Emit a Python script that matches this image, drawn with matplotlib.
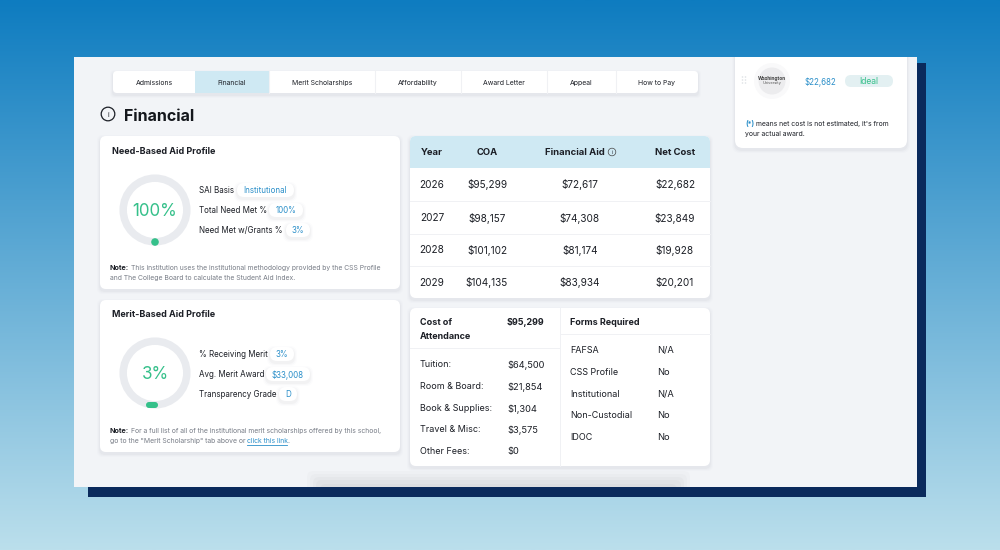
import matplotlib
matplotlib.use("Agg")
import matplotlib.pyplot as plt
import numpy as np
from matplotlib.patches import Circle, FancyBboxPatch, Rectangle

plt.rcParams["font.family"] = ["Inter", "DejaVu Sans"]

W, H = 1000, 550

tabs = ["Admissions", "Financial", "Merit Scholarships", "Affordability",
        "Award Letter", "Appeal", "How to Pay"]
tab_edges = [113, 195, 269, 375, 461, 547, 616, 698]

years = ["2026", "2027", "2028", "2029"]
coa = ["$95,299", "$98,157", "$101,102", "$104,135"]
aid = ["$72,617", "$74,308", "$81,174", "$83,934"]
net_cost = ["$22,682", "$23,849", "$19,928", "$20,201"]

need_labels = ["SAI Basis", "Total Need Met %", "Need Met w/Grants %"]
need_values = ["Institutional", "100%", "3%"]
merit_labels = ["% Receiving Merit", "Avg. Merit Award", "Transparency Grade"]
merit_values = ["3%", "$33,008", "D"]

cost_labels = ["Tuition:", "Room & Board:", "Book & Supplies:", "Travel & Misc:", "Other Fees:"]
cost_values = ["$64,500", "$21,854", "$1,304", "$3,575", "$0"]
form_labels = ["FAFSA", "CSS Profile", "Institutional", "Non-Custodial", "IDOC"]
form_values = ["N/A", "No", "N/A", "No", "No"]

INK = "#1c1f26"
BLUE = "#2b8fc9"
GREEN = "#35c08a"
GREY = "#777c86"
HEAD = "#cfe9f3"
LINE = "#f0f1f4"
RING = "#e9ebef"

fig = plt.figure(figsize=(10, 5.5), dpi=100)
ax = fig.add_axes([0, 0, 1, 1])
ax.set_xlim(0, W)
ax.set_ylim(H, 0)
ax.axis("off")


def txt(x, y, s, px=8, color=INK, weight="normal", ha="left", **kw):
    # va=center sits a little high for digits and caps, nudge by font size
    return ax.text(x, y + 0.1 * px, s, fontsize=px * 0.72, color=color, fontweight=weight,
                   ha=ha, va="center", **kw)


def box(x0, y0, x1, y1, color="white", r=6, z=2, shadow=True, clip=None):
    patches = []
    if shadow:
        for grow, a in [(3, 0.012), (2, 0.02), (1, 0.03)]:
            patches.append(ax.add_patch(FancyBboxPatch(
                (x0 - grow, y0 - grow + 2), x1 - x0 + 2 * grow, y1 - y0 + 2 * grow,
                boxstyle=f"round,pad=0,rounding_size={r}", fc="#3a4658", ec="none",
                alpha=a, zorder=z)))
    patches.append(ax.add_patch(FancyBboxPatch(
        (x0, y0), x1 - x0, y1 - y0, boxstyle=f"round,pad=0,rounding_size={r}",
        fc=color, ec="none", zorder=z)))
    if clip is not None:
        for p in patches:
            p.set_clip_path(clip)


def pill(x0, x1, y, s):
    box(x0, y - 7, x1, y + 7, r=7, z=3)
    txt((x0 + x1) / 2, y, s, color=BLUE, ha="center", zorder=4)


def ring(cx, cy, s):
    ax.add_patch(Circle((cx, cy), 31.8, fc="none", ec=RING,
                        lw=7.5 * 0.72, zorder=3))
    txt(cx, cy, s, px=17, color=GREEN, ha="center", zorder=4)


# page background and the two stacked panels
top, bottom = np.array([0x0e, 0x7c, 0xc0]) / 255, np.array([0xbb, 0xdf, 0xec]) / 255
ramp = np.linspace(0, 1, 256)[:, None, None] * (bottom - top) + top
ax.imshow(ramp, extent=[0, W, H, 0], aspect="auto", zorder=0)
ax.set_xlim(0, W)
ax.set_ylim(H, 0)

ax.add_patch(Rectangle((88, 63), 838, 434, fc="#0a2a5c", ec="none", zorder=1))
panel = ax.add_patch(Rectangle((74, 57), 843, 430, fc="#f2f4f7", ec="none", zorder=1))

# soft shadow at the bottom of the panel
for grow, a in [(0, 0.018), (3, 0.022), (6, 0.026), (9, 0.03), (13, 0.03)]:
    shade = ax.add_patch(FancyBboxPatch(
        (307 + grow, 471 + grow), 383 - 2 * grow, 30,
        boxstyle="round,pad=0,rounding_size=6", fc="#4a4f5a", ec="none", alpha=a, zorder=1))
    shade.set_clip_path(panel)

# tabs
box(tab_edges[0], 71, tab_edges[-1], 93, r=4)
for i, name in enumerate(tabs):
    x0, x1 = tab_edges[i], tab_edges[i + 1]
    if name == "Financial":
        ax.add_patch(Rectangle((x0, 71), x1 - x0, 22, fc=HEAD, ec="none", zorder=3))
    elif i > 0:
        ax.plot([x0, x0], [71, 93], color=LINE, lw=0.8, zorder=3)
    txt((x0 + x1) / 2, 82, name, px=6.9, ha="center", zorder=4)

# page title
ax.add_patch(Circle((108, 114), 6.8, fc="none", ec=INK, lw=0.9, zorder=3))
txt(108, 114, "i", px=7, ha="center", zorder=4)
txt(124, 115, "Financial", px=16, weight="bold", color="#14171c", zorder=4)

# need based card
box(100, 136, 400, 289)
txt(112, 151, "Need-Based Aid Profile", px=9, weight="bold", zorder=4)
ring(155, 210, "100%")
ax.add_patch(Circle((155, 242), 3.8, fc=GREEN, ec="none", zorder=4))
for y, lab, val, px0, px1 in zip([190, 210, 230], need_labels, need_values,
                                 [237, 269, 286], [294, 303, 310]):
    txt(199, y, lab, zorder=4)
    pill(px0, px1, y, val)
txt(110, 267, "Note:", px=7.2, weight="bold", zorder=4)
txt(131, 267, "This institution uses the institutional methodology provided by the CSS Profile",
    px=6.8, color=GREY, zorder=4)
txt(110, 277.5, "and The College Board to calculate the Student Aid Index.", px=6.8, color=GREY, zorder=4)

# merit based card
box(100, 300, 400, 452)
txt(112, 314, "Merit-Based Aid Profile", px=9, weight="bold", zorder=4)
ring(155, 373, "3%")
ax.add_patch(FancyBboxPatch((146, 402), 12, 6, boxstyle="round,pad=0,rounding_size=3",
                            fc=GREEN, ec="none", zorder=4))
for y, lab, val, px0, px1 in zip([354, 374, 394], merit_labels, merit_values,
                                 [270, 266, 279], [294, 310, 297]):
    txt(199, y, lab, zorder=4)
    pill(px0, px1, y, val)
txt(110, 430.5, "Note:", px=7.2, weight="bold", zorder=4)
txt(131, 430.5, "For a full list of all of the institutional merit scholarships offered by this school,",
    px=6.8, color=GREY, zorder=4)
txt(110, 440.5, 'go to the "Merit Scholarship" tab above or', px=6.8, color=GREY, zorder=4)
txt(247, 440.5, "click this link", px=6.8, color=BLUE, zorder=4)
ax.plot([247, 287], [445, 445], color=BLUE, lw=0.6, zorder=4)
txt(287, 440.5, ".", px=6.8, color=GREY, zorder=4)

# net cost table
col_x = [432, 487, 580, 675]
box(410, 136, 710, 298)
ax.add_patch(FancyBboxPatch((410, 136), 300, 20, boxstyle="round,pad=0,rounding_size=6",
                            fc=HEAD, ec="none", zorder=3))
ax.add_patch(Rectangle((410, 146), 300, 22, fc=HEAD, ec="none", zorder=3))
for x, name in zip(col_x, ["Year", "COA", "Financial Aid", "Net Cost"]):
    cx = x - 5 if name == "Financial Aid" else x
    txt(cx, 152, name, px=9.5, weight="bold", ha="center", zorder=4)
ax.add_patch(Circle((612, 152), 3.8, fc="none", ec="#444", lw=0.5, zorder=4))
txt(612, 152, "i", px=5, ha="center", zorder=5)
row_y = [184, 217, 249, 282]
for i, y in enumerate(row_y):
    for x, col in zip(col_x, [years, coa, aid, net_cost]):
        txt(x, y, col[i], px=10, ha="center", zorder=4)
    if i < len(row_y) - 1:
        ax.plot([410, 710], [y + 16.5, y + 16.5], color=LINE, lw=0.7, zorder=3)

# cost of attendance and forms
box(410, 308, 710, 466)
ax.plot([559.5, 559.5], [308, 466], color=LINE, lw=0.7, zorder=3)
ax.plot([410, 559.5], [348, 348], color=LINE, lw=0.7, zorder=3)
ax.plot([559.5, 710], [334, 334], color=LINE, lw=0.7, zorder=3)
txt(420, 322, "Cost of", px=9, weight="bold", zorder=4)
txt(420, 336, "Attendance", px=9, weight="bold", zorder=4)
txt(507, 322, coa[0], px=9, weight="bold", zorder=4)
txt(570, 322, "Forms Required", px=9, weight="bold", zorder=4)
for y, lab, val in zip([364, 386, 408, 429, 451], cost_labels, cost_values):
    txt(420, y, lab, px=9, zorder=4)
    txt(507, y, val, px=9.3, zorder=4)
for y, lab, val in zip([350, 372, 394, 415, 437], form_labels, form_values):
    txt(570, y, lab, px=9, zorder=4)
    txt(657, y, val, px=9.3, zorder=4)

# side card, cut off by the panel top
box(735, 30, 907, 148, r=8, clip=panel)
for gx in [742.5, 745.5]:
    for gy in [77, 80, 83]:
        ax.add_patch(Circle((gx, gy), 0.8, fc="#dfe2e6", ec="none", zorder=4))
ax.add_patch(Circle((772, 81), 18, fc="#f9f9fa", ec="none", zorder=3))
ax.add_patch(Circle((772, 81), 13.5, fc="#ececee", ec="none", zorder=4))
txt(772, 78.5, "Washington", px=4.8, weight="bold", color="#444", ha="center", zorder=5)
txt(772, 82.5, "University", px=4, color="#555", ha="center", zorder=5)
txt(805, 81, net_cost[0], px=7.9, color=BLUE, zorder=4)
box(845, 75, 893, 87, color="#e3f0f2", r=6, shadow=False)
txt(869, 81, "Ideal", px=8.5, color=GREEN, ha="center", zorder=4)
txt(745, 123, "(*)", px=7, color=BLUE, weight="bold", zorder=4)
txt(756, 123, "means net cost is not estimated, it's from", px=6.9, zorder=4)
txt(745, 133, "your actual award.", px=6.9, zorder=4)

fig.savefig("out.png", dpi=100)
plt.close(fig)
